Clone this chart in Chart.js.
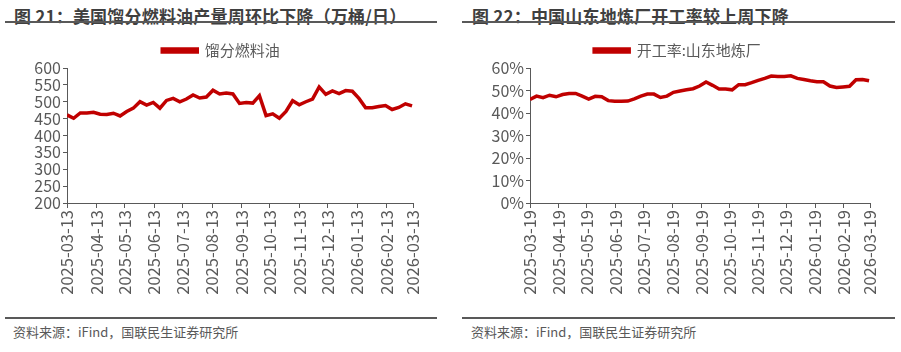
<!DOCTYPE html>
<html>
<head>
<meta charset="utf-8">
<script src="https://cdn.jsdelivr.net/npm/chart.js"></script>
<style>
  body { margin: 0; background: #fff; width: 901px; height: 352px; position: relative; overflow: hidden;
         font-family: "Noto Sans CJK SC", sans-serif; }
  .title { position: absolute; top: 3px; font-size: 17px; font-weight: bold; color: #3f3f3f; white-space: nowrap; letter-spacing: 0.2px; }
  .rule { position: absolute; height: 2px; background: #595959; }
  .source { position: absolute; top: 322px; font-size: 13px; color: #595959; white-space: nowrap; }
  .box { position: absolute; top: 36px; width: 440px; height: 278px; }
</style>
</head>
<body>
<div class="title" style="left:14px">图 21：美国馏分燃料油产量周环比下降（万桶/日）</div>
<div class="rule" style="left:5px; width:432px; top:21px"></div>
<div class="title" style="left:472px">图 22：中国山东地炼厂开工率较上周下降</div>
<div class="rule" style="left:462px; width:433px; top:21px"></div>

<div class="box" style="left:0"><canvas id="c1"></canvas></div>
<div class="box" style="left:458px"><canvas id="c2"></canvas></div>

<div class="rule" style="left:5px; width:432px; top:317px"></div>
<div class="rule" style="left:462px; width:433px; top:317px"></div>
<div class="source" style="left:13px">资料来源：iFind，国联民生证券研究所</div>
<div class="source" style="left:471px">资料来源：iFind，国联民生证券研究所</div>

<script>
// 美国馏分燃料油产量（万桶/日），周度
const distillateStart = '2025-03-13';
const distillateTicks = ['2025-03-13','2025-04-13','2025-05-13','2025-06-13','2025-07-13','2025-08-13',
  '2025-09-13','2025-10-13','2025-11-13','2025-12-13','2026-01-13','2026-02-13','2026-03-13'];
const distillateYTicks = [200, 250, 300, 350, 400, 450, 500, 550, 600];
const distillateValues = [461,451,467,467,469,463,462,466,458,471,481,500,490,498,481,504,510,500,508,520,
  511,514,534,523,526,523,495,498,496,518,459,464,451,471,503,491,500,508,544,522,
  532,524,533,531,510,482,482,486,489,477,483,494,488];

// 山东地炼厂开工率（%），周度
const refineryStart = '2025-03-19';
const refineryTicks = ['2025-03-19','2025-04-19','2025-05-19','2025-06-19','2025-07-19','2025-08-19',
  '2025-09-19','2025-10-19','2025-11-19','2025-12-19','2026-01-19','2026-02-19','2026-03-19'];
const refineryYTicks = [0, 10, 20, 30, 40, 50, 60];
const refineryValues = [46.0,47.5,46.8,47.9,47.2,48.2,48.7,48.7,47.5,46.2,47.4,47.2,45.5,45.2,45.2,45.3,
  46.3,47.5,48.4,48.4,46.9,47.5,49.2,49.8,50.3,50.8,52.0,53.8,52.3,50.7,50.7,50.3,
  52.6,52.6,53.5,54.5,55.4,56.4,56.2,56.2,56.5,55.4,54.9,54.3,53.9,53.9,52.0,51.3,
  51.6,51.9,54.8,54.9,54.3];

const DAY = 86400000;
function dayOffset(start, d) {
  return Math.round((Date.parse(d) - Date.parse(start)) / DAY);
}
function weekly(values) {
  // one reading per week from the start date
  return values.map((v, i) => ({ x: i * 7, y: v }));
}

const axisColor = '#595959';
const family = '"Noto Sans CJK SC", sans-serif';

function makeChart(id, opts) {
  const tickDays = opts.ticks.map(d => dayOffset(opts.start, d));
  new Chart(document.getElementById(id), {
    type: 'line',
    data: {
      datasets: [{
        label: opts.label,
        data: weekly(opts.values),
        borderColor: '#c00000',
        backgroundColor: '#c00000',
        borderWidth: 3.5,
        pointRadius: 0,
        tension: 0
      }]
    },
    options: {
      responsive: true,
      maintainAspectRatio: false,
      animation: false,
      layout: { padding: { left: opts.padLeft, right: opts.padRight, top: 0, bottom: 0 } },
      plugins: {
        legend: {
          display: true,
          labels: {
            boxWidth: 35, boxHeight: 3, padding: 7,
            color: axisColor,
            font: { family: family, size: 15 }
          }
        },
        tooltip: { enabled: false }
      },
      scales: {
        x: {
          type: 'linear',
          min: 0,
          max: tickDays[tickDays.length - 1],
          afterBuildTicks: scale => { scale.ticks = tickDays.map(v => ({ value: v })); },
          afterFit: scale => { scale.height = opts.xHeight; },
          ticks: {
            autoSkip: false, maxRotation: 90, minRotation: 90,
            color: axisColor, font: { family: family, size: 16.5 },
            padding: 2,
            callback: (v, i) => opts.ticks[i]
          },
          grid: { drawOnChartArea: false, drawTicks: true, tickLength: 5, color: axisColor },
          border: { color: axisColor, width: 1 }
        },
        y: {
          min: opts.yTicks[0], max: opts.yTicks[opts.yTicks.length - 1],
          afterBuildTicks: scale => { scale.ticks = opts.yTicks.map(v => ({ value: v })); },
          afterFit: scale => { scale.width = opts.yWidth; },
          ticks: {
            autoSkip: false, color: axisColor, font: { family: family, size: 16, lineHeight: 1 }, padding: 2,
            callback: opts.yFormat
          },
          grid: { drawOnChartArea: false, drawTicks: true, tickLength: 4, color: axisColor },
          border: { color: axisColor, width: 1 }
        }
      }
    }
  });
}

makeChart('c1', {
  label: '馏分燃料油', start: distillateStart, ticks: distillateTicks, values: distillateValues,
  yTicks: distillateYTicks, yFormat: v => v,
  padLeft: 29, yWidth: 38, xHeight: 111, padRight: 27
});
makeChart('c2', {
  label: '开工率:山东地炼厂', start: refineryStart, ticks: refineryTicks, values: refineryValues,
  yTicks: refineryYTicks, yFormat: v => v + '%',
  padLeft: 27, yWidth: 45, xHeight: 111, padRight: 28
});
</script>
</body>
</html>
